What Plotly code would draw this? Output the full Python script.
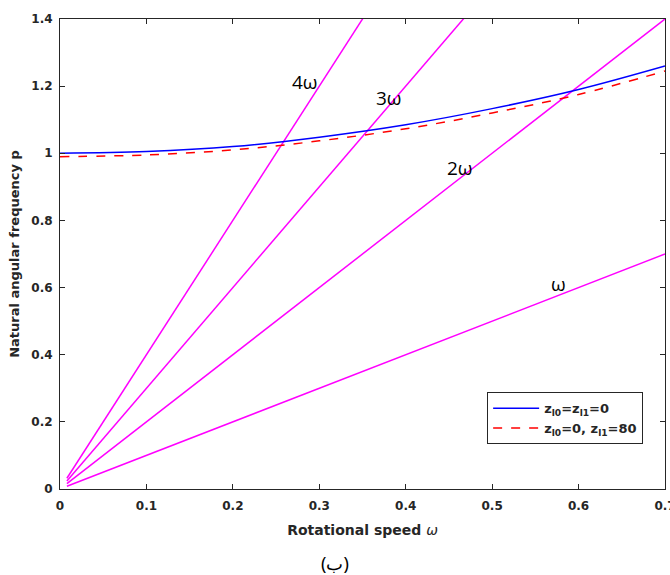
import plotly.graph_objects as go

# Data
omega = [0.0, 0.1, 0.2, 0.3, 0.4, 0.5, 0.6, 0.7]
p_case1 = [1.0, 1.005, 1.02, 1.048, 1.085, 1.133, 1.19, 1.26]
p_case2 = [0.99, 0.995, 1.01, 1.037, 1.073, 1.12, 1.175, 1.245]

line_x = [0.008, 0.7]
line_1w = [0.008, 0.7]
line_2w = [0.016, 1.4]
line_3w = [0.024, 2.1]
line_4w = [0.032, 2.8]

label_text = ["4ω", "3ω", "2ω", "ω"]
label_x = [0.283, 0.381, 0.463, 0.577]
label_y = [1.212, 1.165, 0.956, 0.61]

x_ticks = [0, 0.1, 0.2, 0.3, 0.4, 0.5, 0.6, 0.7]
y_ticks = [0, 0.2, 0.4, 0.6, 0.8, 1.0, 1.2, 1.4]

MAG = "#FF00FF"
FONT = "DejaVu Sans"
fig = go.Figure()
for yy in [line_1w, line_2w, line_3w, line_4w]:
    fig.add_trace(go.Scatter(x=line_x, y=yy, mode="lines",
                             line=dict(color=MAG, width=1.5), showlegend=False,
                             hoverinfo="skip"))
fig.add_trace(go.Scatter(x=omega, y=p_case1, mode="lines", line_shape="spline",
                         line=dict(color="#0000FF", width=1.5),
                         name="z<sub>l0</sub>=z<sub>l1</sub>=0"))
fig.add_trace(go.Scatter(x=omega, y=p_case2, mode="lines", line_shape="spline",
                         line=dict(color="#FF0000", width=1.5, dash="dash"),
                         name="z<sub>l0</sub>=0, z<sub>l1</sub>=80"))

for t, x, y in zip(label_text, label_x, label_y):
    fig.add_annotation(x=x, y=y, text=t, showarrow=False,
                       font=dict(family="Open Sans", size=19, color="black"))

fig.add_annotation(x=0.455, y=-0.157, xref="paper", yref="paper", text="(ب)",
                   yanchor="middle", showarrow=False,
                   font=dict(family="Noto Sans", size=18, color="black"))

axis_common = dict(showline=True, mirror="ticks", linecolor="#262626", linewidth=1,
                   ticks="inside", ticklen=5, tickcolor="#262626", showgrid=False,
                   zeroline=False, ticklabeloverflow="allow", automargin=False,
                   tickfont=dict(family=FONT, size=12, color="#262626",
                                 weight="bold"))

fig.update_layout(
    width=670, height=575,
    margin=dict(l=60, r=5, t=19, b=86),
    plot_bgcolor="white", paper_bgcolor="white",
    xaxis=dict(range=[0, 0.7], tickvals=x_ticks, ticklabelstandoff=6,
               title=dict(text="Rotational speed <i style='font-weight:normal'>ω</i>",
                          font=dict(family=FONT, size=14, color="#262626",
                                    weight="bold"), standoff=12),
               **axis_common),
    yaxis=dict(range=[0, 1.4], tickvals=y_ticks, ticklabelstandoff=4,
               title=dict(text="Natural angular frequency p",
                          font=dict(family=FONT, size=13, color="#262626",
                                    weight="bold"), standoff=8),
               **axis_common),
    legend=dict(x=0.706, y=0.206, xanchor="left", yanchor="top",
                bgcolor="white", bordercolor="#262626", borderwidth=1,
                itemwidth=46,
                font=dict(family=FONT, size=13, color="#262626", weight="bold"),
                tracegroupgap=2),
)

fig.write_html("out.html")
